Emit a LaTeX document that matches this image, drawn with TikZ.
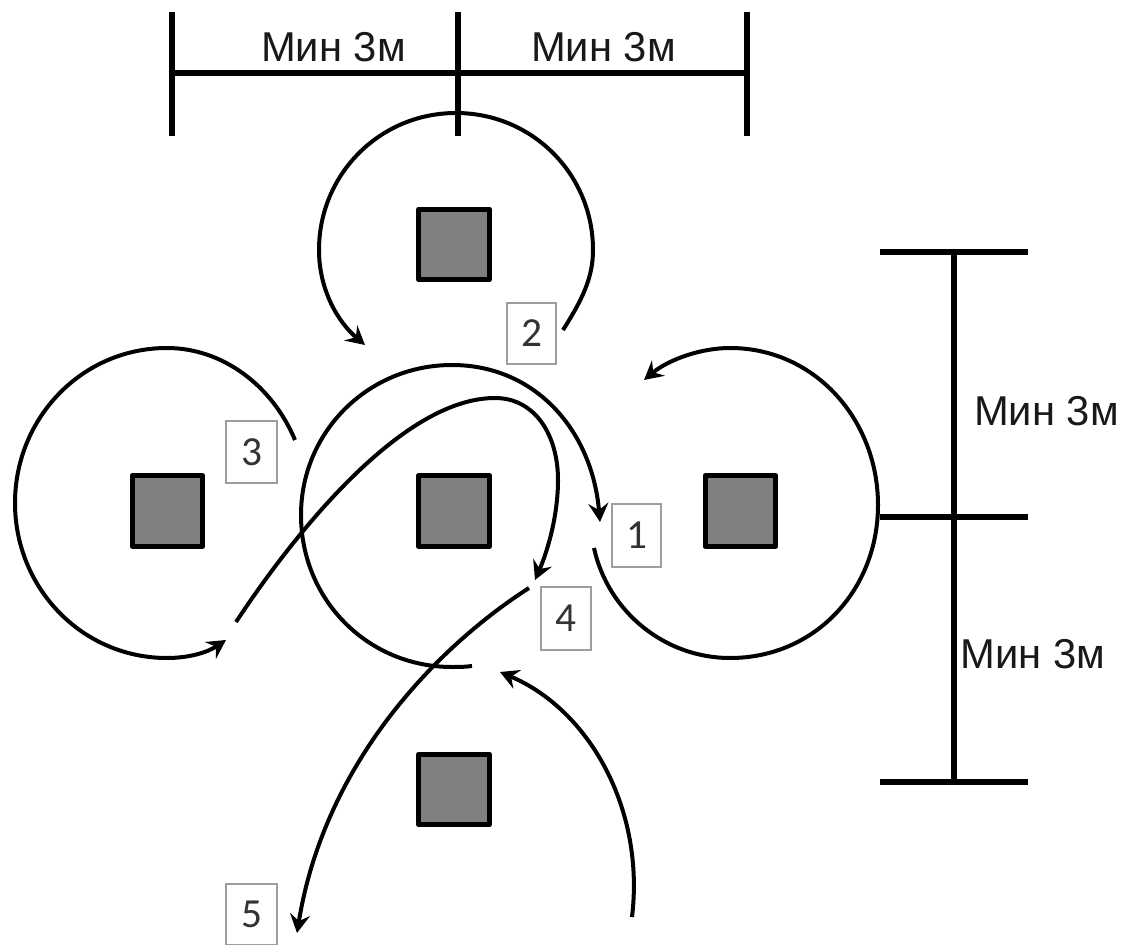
\documentclass[tikz,border=0pt]{standalone}
\usepackage{fontspec}
\setmainfont{Liberation Sans}
\newfontfamily\numfont{Carlito}
\usetikzlibrary{arrows.meta}
\definecolor{sqfill}{gray}{0.5}
\definecolor{tagline}{gray}{0.62}
\definecolor{tagtext}{gray}{0.2}
\tikzset{
  sq/.style={draw=black,line width=3.8pt,fill=sqfill,minimum width=53pt,minimum height=53pt,inner sep=0pt,outer sep=0pt,line join=round},
  tag/.style={draw=tagline,line width=1.4pt,fill=white,inner sep=0pt,outer sep=0pt,text=tagtext,font=\numfont\fontsize{31}{31}\selectfont},
  dim/.style={line width=4.2pt,black},
  lab/.style={font=\fontsize{31.3}{31.3}\selectfont,inner sep=0pt,text=black!90},
  path1/.style={line width=3pt,black},
  arr/.style={path1,-{Stealth[length=14pt,width=15pt,inset=5pt]}}
}
\begin{document}
\begin{tikzpicture}[x=0.75pt,y=-0.75pt]
\useasboundingbox (0,0) rectangle (1135,945);
% squares
\node[sq] (top) at (454,244.5) {};
\node[sq] (mid) at (454,511) {};
\node[sq] (lft) at (167.5,511) {};
\node[sq] (rgt) at (740.5,511) {};
\node[sq] (bot) at (454,789.5) {};
% top dimension
\coordinate (ta) at (172,12); \coordinate (tb) at (172,136);
\coordinate (tc) at (458,12); \coordinate (td) at (458,136);
\coordinate (te) at (747,12); \coordinate (tf) at (747,136);
\coordinate (tl) at (172,73); \coordinate (tr) at (747,73);
\draw[dim] (ta) -- (tb);
\draw[dim] (tc) -- (td);
\draw[dim] (te) -- (tf);
\draw[dim] (tl) -- (tr);
% right dimension
\coordinate (ra) at (880,252); \coordinate (rb) at (1028,252);
\coordinate (rc) at (880,517); \coordinate (rd) at (1028,517);
\coordinate (re) at (880,782); \coordinate (rf) at (1028,782);
\coordinate (rt) at (954,252); \coordinate (rm) at (954,782);
\draw[dim] (ra) -- (rb);
\draw[dim] (rc) -- (rd);
\draw[dim] (re) -- (rf);
\draw[dim] (rt) -- (rm);
% dimension labels
\node[lab] (l1) at (333.5,47) {Мин 3м};
\node[lab] (l2) at (603.5,47) {Мин 3м};
\node[lab] (l3) at (1046.5,411) {Мин 3м};
\node[lab] (l4) at (1033,654) {Мин 3м};
% top loop
\draw[arr] (563,330) .. controls (582,300) and (593,278) .. (593,250)
  .. controls (593,174) and (532,113) .. (456,113)
  .. controls (380,113) and (319,174) .. (319,250)
  .. controls (319,290) and (338,322) .. (365,345);
% right loop
\draw[arr] (594,548) .. controls (608,612) and (665,658) .. (730,658)
  .. controls (815,658) and (878,590) .. (878,505)
  .. controls (878,420) and (815,348) .. (730,348)
  .. controls (700,348) and (668,360) .. (644,380);
% left loop
\draw[arr] (295,440) .. controls (272,385) and (222,348) .. (167,348)
  .. controls (82,348) and (15,418) .. (15,503)
  .. controls (15,588) and (82,658) .. (167,658)
  .. controls (190,658) and (208,652) .. (226,640);
% centre loop
\draw[arr] (472,666) .. controls (465,667) and (458,667) .. (452,667)
  .. controls (368,667) and (301,600) .. (301,515)
  .. controls (301,432) and (368,365) .. (452,365)
  .. controls (535,365) and (592,430) .. (600,522);
% S curve
\draw[arr] (236,622) .. controls (290,540) and (400,398) .. (495,398)
  .. controls (535,398) and (558,435) .. (558,480)
  .. controls (558,515) and (548,550) .. (535,580);
% exit
\draw[arr] (529,588) .. controls (440,645) and (325,760) .. (297,933);
% entry
\draw[arr] (632,917) .. controls (645,810) and (590,710) .. (500,672);
% tags
\node[tag,minimum width=37pt,minimum height=47pt] (t1) at (636.5,535.5) {1};
\node[tag,minimum width=37pt,minimum height=46pt] (t2) at (531.5,333.5) {2};
\node[tag,minimum width=38pt,minimum height=46pt] (t3) at (251.5,452) {3};
\node[tag,minimum width=37pt,minimum height=47pt] (t4) at (566,618.5) {4};
\node[tag,minimum width=38pt,minimum height=46pt] (t5) at (251.5,914.5) {5};
\end{tikzpicture}
\end{document}
